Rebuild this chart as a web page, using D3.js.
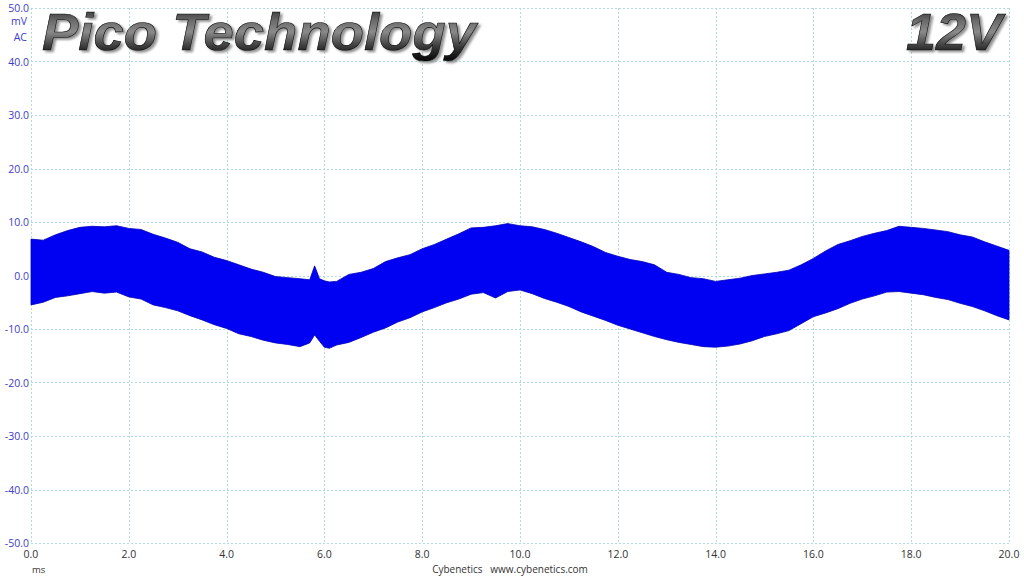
<!DOCTYPE html>
<html><head><meta charset="utf-8">
<script src="https://cdn.jsdelivr.net/npm/d3@7"></script>
<style>
html,body{margin:0;padding:0;background:#fff;}
svg{display:block;}
</style></head>
<body>
<svg id="c" width="1024" height="576"></svg>
<script>
const xTicks = [0,2,4,6,8,10,12,14,16,18,20];
const yTicks = [50,40,30,20,10,0,-10,-20,-30,-40,-50];
const timeMs = [0,0.25,0.5,0.75,1,1.25,1.5,1.75,2,2.25,2.5,2.75,3,3.25,3.5,3.75,4,4.25,4.5,4.75,5,5.25,5.5,5.7,5.8,5.9,6,6.1,6.25,6.5,6.75,7,7.25,7.5,7.75,8,8.25,8.5,8.75,9,9.25,9.5,9.75,10,10.25,10.5,10.75,11,11.25,11.5,11.75,12,12.25,12.5,12.75,13,13.25,13.5,13.75,14,14.25,14.5,14.75,15,15.25,15.5,15.75,16,16.25,16.5,16.75,17,17.25,17.5,17.75,18,18.25,18.5,18.75,19,19.25,19.5,19.75,20];
const upperMv = [6.8,6.6,7.6,8.4,9.0,9.2,9.1,9.3,8.8,8.6,7.7,7.0,6.2,5.0,4.4,3.4,2.8,2.0,1.2,0.6,-0.2,-0.4,-0.6,-0.8,1.8,-0.6,-1.0,-1.2,-1.1,0.2,0.6,1.3,2.6,3.3,3.9,5.0,5.8,6.8,7.8,8.9,9.0,9.3,9.7,9.3,9.1,8.6,7.9,7.1,6.3,5.4,4.3,3.6,3.0,2.6,2.0,0.6,0.2,-0.4,-0.6,-1.1,-0.8,-0.5,0.0,0.3,0.6,1.0,2.0,3.2,4.6,5.8,6.5,7.3,7.9,8.4,9.2,9.0,8.8,8.5,8.2,7.6,7.2,6.3,5.5,4.7];
const lowerMv = [-5.5,-5.0,-4.1,-3.8,-3.4,-3.0,-3.3,-3.1,-4.0,-4.4,-5.5,-6.0,-6.6,-7.5,-8.3,-9.2,-9.9,-10.9,-11.4,-12.1,-12.6,-12.9,-13.3,-12.6,-11.1,-12.3,-13.4,-13.6,-13.0,-12.5,-11.6,-10.6,-9.8,-8.7,-7.9,-6.8,-6.0,-5.1,-4.4,-3.5,-3.2,-4.2,-3.0,-2.7,-3.4,-4.3,-5.0,-5.8,-6.8,-7.6,-8.4,-9.3,-10.0,-10.7,-11.4,-12.0,-12.5,-12.9,-13.3,-13.4,-13.2,-12.8,-12.2,-11.4,-10.9,-10.3,-9.0,-7.7,-7.0,-6.2,-5.2,-4.4,-3.8,-3.1,-3.0,-3.3,-3.6,-4.1,-4.5,-5.2,-5.8,-6.6,-7.5,-8.3];

const svg = d3.select("#c");
const x = d3.scaleLinear().domain([0,20]).range([31,1009]);
const y = d3.scaleLinear().domain([-50,50]).range([543,8]);

const defs = svg.append("defs");
const g1 = defs.append("linearGradient").attr("id","metal").attr("x1",0).attr("y1",0).attr("x2",0).attr("y2",1);
[[0,"#1a1a1a"],[0.3,"#6a6a6a"],[0.5,"#8a8a8a"],[0.75,"#3a3a3a"],[1,"#050505"]].forEach(s=>g1.append("stop").attr("offset",s[0]).attr("stop-color",s[1]));
const f = defs.append("filter").attr("id","sh").attr("x","-5%").attr("y","-10%").attr("width","115%").attr("height","130%");
f.append("feDropShadow").attr("dx",2.5).attr("dy",2).attr("stdDeviation",1.2).attr("flood-color","#777").attr("flood-opacity",0.8);

// grid
const grid = svg.append("g").attr("stroke","#b2dcdc").attr("stroke-width",1).attr("stroke-dasharray","2,2").attr("fill","none");
grid.selectAll("line.v").data(xTicks).join("line").attr("class","v")
  .attr("x1",d=>Math.round(x(d))+0.5).attr("x2",d=>Math.round(x(d))+0.5).attr("y1",y(50)).attr("y2",y(-50));
grid.selectAll("line.h").data(yTicks).join("line").attr("class","h")
  .attr("y1",d=>Math.round(y(d))+0.5).attr("y2",d=>Math.round(y(d))+0.5).attr("x1",x(0)).attr("x2",x(20));

// signal band
const pts = timeMs.map((t,i)=>({t, hi:upperMv[i], lo:lowerMv[i]}));
const area = d3.area().x(d=>x(d.t)).y0(d=>y(d.lo)).y1(d=>y(d.hi)).curve(d3.curveLinear);
svg.append("path").datum(pts).attr("d",area).attr("fill","#0000f2").attr("stroke","#0000b8").attr("stroke-width",0.8);

// y labels
const yl = svg.append("g").attr("font-family","'Open Sans', 'DejaVu Sans', sans-serif").attr("font-size",10.5).attr("fill","#3d3dc8").attr("text-anchor","end");
yl.selectAll("text").data(yTicks).join("text").attr("x",29).attr("y",d=>y(d)+4).text(d=>d.toFixed(1));
yl.append("text").attr("x",27).attr("y",25).text("mV");
yl.append("text").attr("x",27).attr("y",41).text("AC");

// x labels
const xl = svg.append("g").attr("font-family","'Open Sans', 'DejaVu Sans', sans-serif").attr("font-size",10.5).attr("fill","#333").attr("text-anchor","middle");
xl.selectAll("text").data(xTicks).join("text").attr("x",d=>x(d)).attr("y",558).text(d=>d.toFixed(1));
svg.append("text").attr("x",32).attr("y",573).attr("font-family","'Open Sans', sans-serif").attr("font-size",9.5).attr("fill","#333").text("ms");
svg.append("text").attr("x",510).attr("y",573).attr("text-anchor","middle").attr("font-family","'Open Sans', sans-serif").attr("font-size",10).attr("fill","#333").attr("xml:space","preserve").text("Cybenetics   www.cybenetics.com");

// titles
function title(txt, xPos, len){
  svg.append("text").attr("x",xPos).attr("y",50).attr("font-family","'Liberation Sans', Arial, sans-serif")
    .attr("font-weight","bold").attr("font-style","italic").attr("font-size",52).attr("fill","url(#metal)")
    .attr("stroke","#000").attr("stroke-width",0.6).attr("filter","url(#sh)")
    .attr("textLength",len).attr("lengthAdjust","spacingAndGlyphs").text(txt);
}
title("Pico Technology", 42, 434);
title("12V", 906, 96);
</script>
</body></html>
